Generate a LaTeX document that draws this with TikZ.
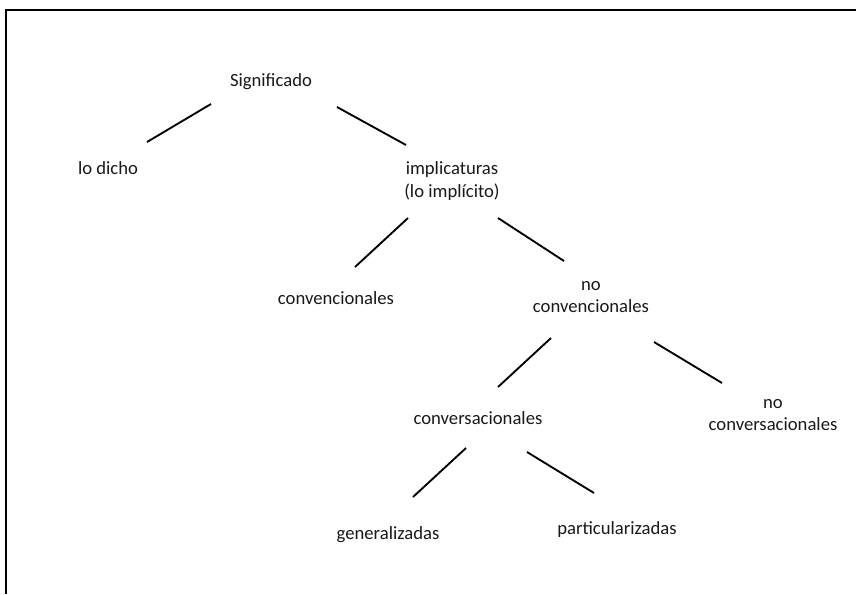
\documentclass[tikz,border=0pt]{standalone}
\usepackage{fontspec}
\setmainfont{Carlito}
\usepackage{tikz}
\tikzstyle{pixelGrid} = [x = 0.75pt, y = -0.75pt]
\tikzstyle{frameLine} = [color=black, line width=1.5pt]
\tikzstyle{branchStyle} = [color=black, line width=1.4pt]
\tikzstyle{conceptText} = [font=\fontsize{14}{17}\selectfont, align=center, inner sep=0pt, text=black!90]
\newcommand{\concept}[4]{\node [conceptText] (#1) at (#2, #3) {#4};}
\newcommand{\branch}[4]{\draw [branchStyle] ([shift={(#2)}]#1.center) -- ([shift={(#4)}]#3.center);}

\begin{document}
\begin{tikzpicture}[pixelGrid]
  \useasboundingbox (0,0) rectangle (856,594);
  \draw [frameLine] (856,10) -- (5.5,10) -- (5.5,594);

  \concept{sig}{271}{82}{Significado}
  \concept{dicho}{108}{168}{lo dicho}
  \concept{impl}{452}{181}{implicaturas\\(lo implícito)}
  \concept{conv}{336}{298}{convencionales}
  \concept{noConv}{591}{297}{no\\convencionales}
  \concept{convers}{478}{418}{conversacionales}
  \concept{noConvers}{773}{415}{no\\conversacionales}
  \concept{gen}{388}{535}{generalizadas}
  \concept{part}{617}{530}{particularizadas}

  \branch{sig}{-60,22}{dicho}{39,-26}
  \branch{sig}{66,25}{impl}{-46,-36}
  \branch{impl}{-44,37}{conv}{19,-31}
  \branch{impl}{46,37}{noConv}{-27,-36}
  \branch{noConv}{-40,41}{convers}{20,-31}
  \branch{noConv}{63,45}{noConvers}{-51,-32}
  \branch{convers}{-12,30}{gen}{25,-38}
  \branch{convers}{49,34}{part}{-23,-37}
\end{tikzpicture}
\end{document}
